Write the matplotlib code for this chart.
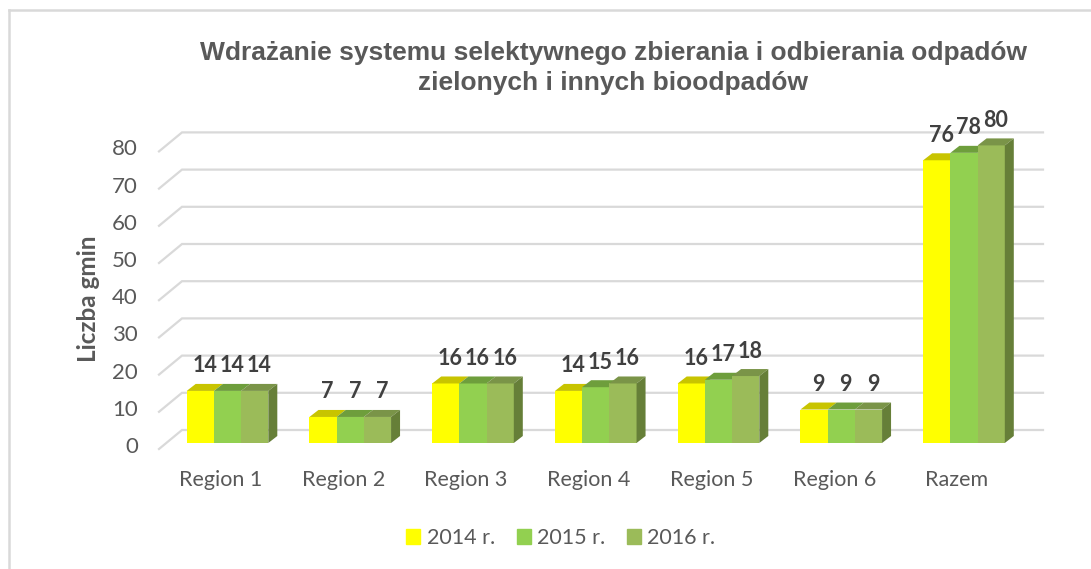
import numpy as np
import matplotlib.pyplot as plt
from matplotlib.patches import Polygon
from matplotlib.lines import Line2D

# chart data
categories = ["Region 1", "Region 2", "Region 3", "Region 4", "Region 5", "Region 6", "Razem"]
series_names = ["2014 r.", "2015 r.", "2016 r."]
v2014 = [14, 7, 16, 14, 16, 9, 76]
v2015 = [14, 7, 16, 15, 17, 9, 78]
v2016 = [14, 7, 16, 16, 18, 9, 80]
yticks = [0, 10, 20, 30, 40, 50, 60, 70, 80]

front_cols = ["#ffff00", "#92d050", "#9bbb59"]
top_cols = ["#c8c400", "#6e9e3c", "#7a9448"]
side_col = "#667f38"
grid_col = "#d9d9d9"

W, H = 1091, 569
fig = plt.figure(figsize=(W / 100, H / 100), dpi=100)

# pixel scale of the plot: category spacing and value scale
cat_px = 122.75
val_px = 3.72
x0_px, base_px = 227.5, 443  # centre of first group / bar base (pixels from top)

ax_l, ax_r, ax_t, ax_b = 100, 1080, 120, 470
ax = fig.add_axes([ax_l / W, 1 - ax_b / H, (ax_r - ax_l) / W, (ax_b - ax_t) / H])
ax.set_xlim((ax_l - x0_px) / cat_px, (ax_r - x0_px) / cat_px)
ax.set_ylim((base_px - ax_b) / val_px, (base_px - ax_t) / val_px)
ax.axis("off")

def dx(p):
    return p / cat_px

def dy(p):
    return p / val_px

# gridlines with the 3D slant on the left
gx_front, gx_back, gx_end = dx(159 - x0_px), dx(182 - x0_px), dx(1043 - x0_px)
for v in yticks:
    yf = v - dy(6)
    yb = v + dy(13)
    ax.plot([gx_front, gx_back, gx_end], [yf, yb, yb], color=grid_col, lw=1.6,
            solid_joinstyle="miter", zorder=1)
    ax.text(gx_front - dx(21), yf + dy(2), str(v), ha="right", va="center",
            fontsize=16, color="#595959", family="Lato")

# bars with a small depth
bw = dx(27.2)
ddx, ddy = dx(9), dy(7)
values = [v2014, v2015, v2016]
x = np.arange(len(categories))
for j, vals in enumerate(values):
    xs = x + (j - 1) * bw
    ax.bar(xs, vals, width=bw, color=front_cols[j], zorder=3)
    for xi, v in zip(xs, vals):
        l, r = xi - bw / 2, xi + bw / 2
        ax.add_patch(Polygon([(l, v), (r, v), (r + ddx, v + ddy), (l + ddx, v + ddy)],
                             closed=True, color=top_cols[j], lw=0, zorder=3))
        if j == 2:
            ax.add_patch(Polygon([(r, 0), (r + ddx, ddy), (r + ddx, v + ddy), (r, v)],
                                 closed=True, color=side_col, lw=0, zorder=3))
        ax.text(xi + ddx / 2, v + dy(25), str(v), ha="center", va="center",
                fontsize=15.5, fontweight="bold", color="#404040", family="Lato", zorder=4)

for xi, c in zip(x, categories):
    ax.text(xi - dx(7), dy(-37), c, ha="center", va="center",
            fontsize=15.5, color="#595959", family="Lato")

# title and axis label
fig.text(613 / W, 1 - 68 / H, "Wdrażanie systemu selektywnego zbierania i odbierania odpadów\nzielonych i innych bioodpadów",
         ha="center", va="center", fontsize=19, fontweight="bold", color="#595959",
         family="Liberation Sans", linespacing=1.35)
fig.text(88 / W, 1 - 299 / H, "Liczba gmin", rotation=90, ha="center", va="center",
         fontsize=17.5, fontweight="bold", color="#595959", family="Lato")

# legend
handles = [plt.Rectangle((0, 0), 1, 1, color=c) for c in front_cols]
fig.legend(handles, series_names, loc="center", bbox_to_anchor=(561 / W, 1 - 538 / H),
           ncol=3, frameon=False, prop={"family": "Lato", "size": 15.5},
           labelcolor="#595959", handlelength=0.65, handleheight=0.65,
           handletextpad=0.3, columnspacing=1.0)

# chart area border (only top and left visible)
fig.add_artist(Line2D([9 / W, 9 / W], [0, 1 - 10 / H], color=grid_col, lw=1.8,
                      transform=fig.transFigure))
fig.add_artist(Line2D([9 / W, 1], [1 - 10 / H, 1 - 10 / H], color=grid_col, lw=1.8,
                      transform=fig.transFigure))

fig.savefig("out.png", dpi=100, facecolor="white")
